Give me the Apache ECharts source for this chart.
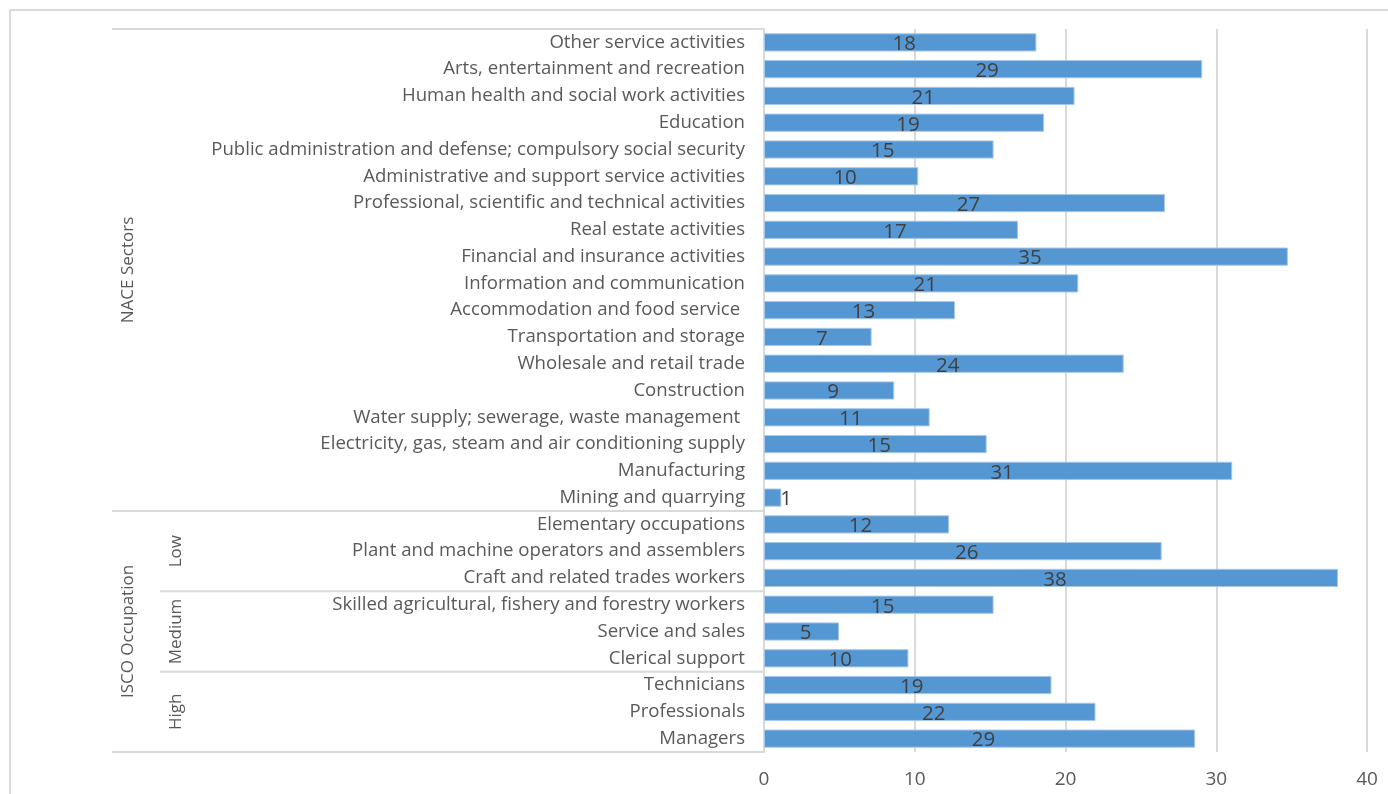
<!DOCTYPE html>
<html>
<head>
<meta charset="utf-8">
<script src="https://cdn.jsdelivr.net/npm/echarts@6/dist/echarts.min.js"></script>
<style>
html,body{margin:0;padding:0;background:#fff;}
#chart{width:1388px;height:794px;}
</style>
</head>
<body>
<div id="chart"></div>
<script>
// Categories, top to bottom
const categories = [
  "Other service activities",
  "Arts, entertainment and recreation",
  "Human health and social work activities",
  "Education",
  "Public administration and defense; compulsory social security",
  "Administrative and support service activities",
  "Professional, scientific and technical activities",
  "Real estate activities",
  "Financial and insurance activities",
  "Information and communication",
  "Accommodation and food service ",
  "Transportation and storage",
  "Wholesale and retail trade",
  "Construction",
  "Water supply; sewerage, waste management ",
  "Electricity, gas, steam and air conditioning supply",
  "Manufacturing",
  "Mining and quarrying",
  "Elementary occupations",
  "Plant and machine operators and assemblers",
  "Craft and related trades workers",
  "Skilled agricultural, fishery and forestry workers",
  "Service and sales",
  "Clerical support",
  "Technicians",
  "Professionals",
  "Managers"
];
const values = [18.07, 29.07, 20.6, 18.58, 15.23, 10.23, 26.6, 16.85, 34.75, 20.85,
  12.67, 7.14, 23.86, 8.64, 10.99, 14.77, 31.06, 1.15, 12.28, 26.38, 38.08,
  15.23, 4.98, 9.58, 19.07, 21.99, 28.6];
// Outer grouping (first index, count)
const groupNames = ["NACE Sectors", "ISCO Occupation"];
const groupStarts = [0, 18];
const groupCounts = [18, 9];
// Inner grouping of ISCO
const subNames = ["Low", "Medium", "High"];
const subStarts = [18, 21, 24];
const subCounts = [3, 3, 3];
const xTicks = [0, 10, 20, 30, 40];

const FONT = "'Open Sans'";
const chart = echarts.init(document.getElementById('chart'), null, {renderer: 'canvas'});
const smallIdx = values.map((v, i) => v < 3 ? i : -1).filter(i => i >= 0);

chart.setOption({
  animation: false,
  backgroundColor: '#fff',
  grid: {left: 764, right: 21, top: 29, bottom: 42, containLabel: false},
  xAxis: {
    type: 'value', min: xTicks[0], max: xTicks[xTicks.length - 1], interval: 10,
    axisLine: {show: false}, axisTick: {show: false},
    splitLine: {show: true, lineStyle: {color: '#d9d9d9', width: 2}},
    axisLabel: {color: '#595959', fontFamily: FONT, fontSize: 19, margin: 18}
  },
  yAxis: {
    type: 'category', data: categories, inverse: true,
    axisLine: {show: true, lineStyle: {color: '#d9d9d9', width: 2}},
    axisTick: {show: false},
    axisLabel: {color: '#595959', fontFamily: FONT, fontSize: 18.6, margin: 19, interval: 0}
  },
  series: [{
    type: 'bar',
    data: values.map((v, i) => smallIdx.includes(i)
      ? {value: v, label: {position: 'right', distance: -1, offset: [0, 2]}}
      : v),
    barCategoryGap: '32%',
    itemStyle: {color: '#5597d2', borderColor: '#a6c8ea', borderWidth: 1},
    label: {
      show: true, position: 'inside', color: '#404040', fontFamily: FONT, fontSize: 20.5,
      offset: [4, 2],
      formatter: p => Math.round(p.value)
    }
  }]
});

function drawGroups() {
  const yOf = i => chart.convertToPixel({yAxisIndex: 0}, i);
  const pitch = yOf(1) - yOf(0);
  const top = i => yOf(i) - pitch / 2;
  const axisX = chart.convertToPixel({xAxisIndex: 0}, 0);
  const lineStyle = {stroke: '#d9d9d9', lineWidth: 2};
  const g = [];
  // frame
  g.push({type: 'line', shape: {x1: 10, y1: 10, x2: 10, y2: 800}, style: lineStyle, silent: true});
  g.push({type: 'line', shape: {x1: 10, y1: 10, x2: 1400, y2: 10}, style: lineStyle, silent: true});
  // outer group boundaries
  const outerLeft = 112, innerLeft = 160;
  g.push({type: 'line', shape: {x1: outerLeft, y1: top(0), x2: axisX, y2: top(0)}, style: lineStyle, silent: true});
  groupNames.forEach((name, k) => {
    const y0 = top(groupStarts[k]);
    const y1 = top(groupStarts[k] + groupCounts[k]);
    g.push({type: 'line', shape: {x1: outerLeft, y1: y1, x2: axisX, y2: y1}, style: lineStyle, silent: true});
    g.push({type: 'text', x: 128, y: (y0 + y1) / 2, rotation: Math.PI / 2,
      style: {text: name, fill: '#595959', font: '17px ' + FONT, align: 'center', verticalAlign: 'middle'}, silent: true});
  });
  subNames.forEach((name, k) => {
    const y0 = top(subStarts[k]);
    const y1 = top(subStarts[k] + subCounts[k]);
    if (k < subNames.length - 1)
      g.push({type: 'line', shape: {x1: innerLeft, y1: y1, x2: axisX, y2: y1}, style: lineStyle, silent: true});
    g.push({type: 'text', x: 176, y: (y0 + y1) / 2, rotation: Math.PI / 2,
      style: {text: name, fill: '#595959', font: '17px ' + FONT, align: 'center', verticalAlign: 'middle'}, silent: true});
  });
  chart.setOption({graphic: g});
}
drawGroups();
</script>
</body>
</html>
